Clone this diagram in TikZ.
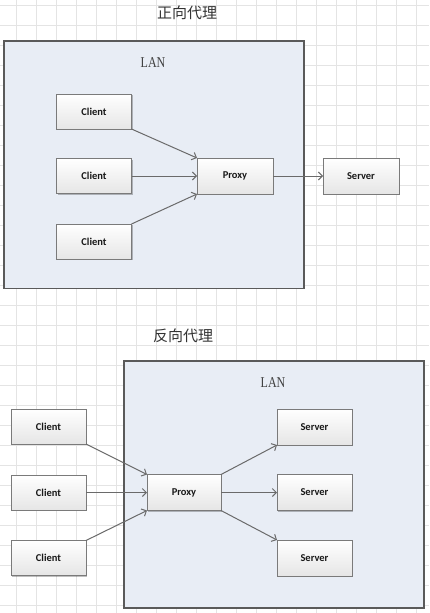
\documentclass[tikz,border=0pt]{standalone}
\usepackage{fontspec}
\setmainfont{Liberation Serif}
\newfontfamily\cjk{Noto Sans CJK SC}
\newfontfamily\boxfont{Carlito}[BoldFont={* Bold}]
\usetikzlibrary{arrows.meta,shadows}
\definecolor{gridc}{HTML}{E4E4E4}
\definecolor{lanfill}{HTML}{E8EDF5}
\definecolor{lanborder}{HTML}{5A5A5A}
\definecolor{arrowc}{HTML}{6A6A6A}
\definecolor{boxborder}{HTML}{7A7A7A}
\begin{document}
\begin{tikzpicture}[x=1pt,y=-1pt,
  lanbox/.style={fill=lanfill,draw=lanborder,line width=1.4pt},
  titletext/.style={font=\cjk\fontsize{15}{15}\selectfont,text=black!80},
  lantext/.style={font=\fontsize{15}{15}\selectfont,text=black!75,xscale=0.8},
  hostbox/.style={draw=boxborder,line width=0.9pt,top color=white,bottom color=black!10,
    minimum width=75pt,minimum height=35pt,inner sep=0pt,outer sep=0pt,
    font=\boxfont\bfseries\fontsize{10.5}{10.5}\selectfont,text=black!90,
    drop shadow={shadow xshift=1pt,shadow yshift=-1pt,opacity=0.25,fill=black}},
  link/.style={draw=arrowc,line width=1pt,-{Straight Barb[length=4pt,width=8pt]}}
]
\useasboundingbox (0,0) rectangle (429,613);
\fill[white] (0,0) rectangle (429,613);
% grid
\foreach \gx in {16,36,...,416} \draw[gridc,line width=0.9pt] (\gx,0) -- (\gx,613);
\foreach \gy in {5,25,...,605} \draw[gridc,line width=0.9pt] (0,\gy) -- (429,\gy);

% ---------- forward proxy ----------
\node[titletext] (t1) at (187,13) {正向代理};
\draw[lanbox] (4,41) rectangle (304,288.5);
\node[lantext] (lan1) at (153,63) {LAN};
\node[hostbox] (c1) at (94,111.5) {Client};
\node[hostbox] (c2) at (94,176) {Client};
\node[hostbox] (c3) at (94,241.5) {Client};
\node[hostbox,minimum width=76pt,minimum height=36pt] (p1) at (235,176) {Proxy};
\node[hostbox,minimum width=76pt,minimum height=36pt] (s1) at (361,176) {Server};
\draw[link] (c1.south east) -- (p1.north west);
\draw[link] (c2.east) -- (p1.west);
\draw[link] (c3.north east) -- (p1.south west);
\draw[link] (p1.east) -- (s1.west);

% ---------- reverse proxy ----------
\node[titletext] (t2) at (183,336) {反向代理};
\draw[lanbox] (124,361) rectangle (424,608);
\node[lantext] (lan2) at (273,383) {LAN};
\node[hostbox] (bc1) at (48.5,426.5) {Client};
\node[hostbox] (bc2) at (48.5,492.5) {Client};
\node[hostbox] (bc3) at (48.5,558) {Client};
\node[hostbox,minimum width=74pt,minimum height=36pt] (p2) at (184,492.5) {Proxy};
\node[hostbox,minimum height=36pt] (bs1) at (314.5,427) {Server};
\node[hostbox,minimum height=36pt] (bs2) at (314.5,492.5) {Server};
\node[hostbox,minimum height=36pt] (bs3) at (314.5,558) {Server};
\draw[link] (bc1.south east) -- (p2.north west);
\draw[link] (bc2.east) -- (p2.west);
\draw[link] (bc3.north east) -- (p2.south west);
\draw[link] (p2.north east) -- (bs1.south west);
\draw[link] (p2.east) -- (bs2.west);
\draw[link] (p2.south east) -- (bs3.north west);
\end{tikzpicture}
\end{document}
